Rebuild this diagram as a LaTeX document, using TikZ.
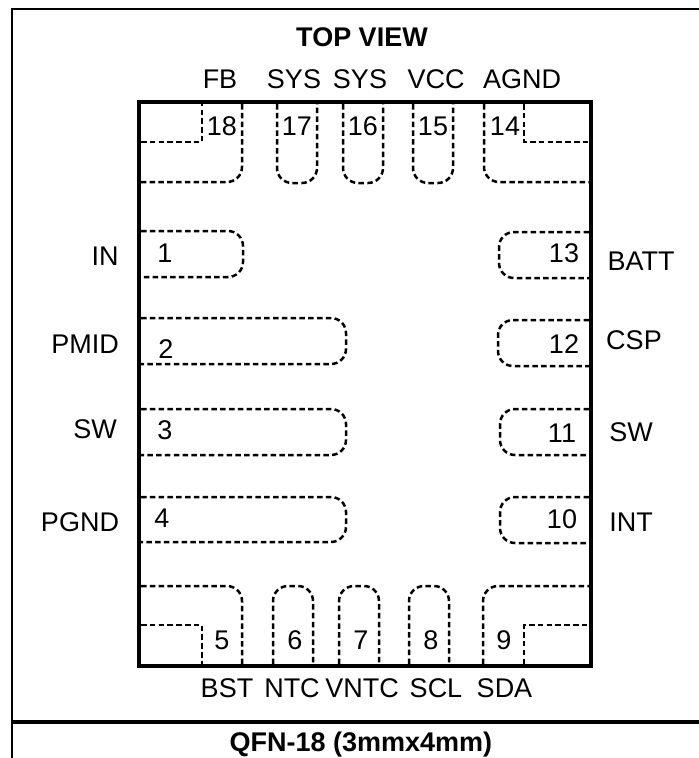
\documentclass[tikz,border=0pt]{standalone}
\usepackage{fontspec}
\setmainfont{Liberation Sans}
\tikzset{
  pinline/.style={line width=2.5pt,dash pattern=on 5.5pt off 3.3pt,rounded corners=15pt},
  sharp/.style={rounded corners=0pt},
  lbl/.style={anchor=base,inner sep=0pt,font=\fontsize{27}{30}\selectfont},
  ttl/.style={anchor=base,inner sep=0pt,font=\fontsize{27}{30}\selectfont\bfseries},
}
\begin{document}
\begin{tikzpicture}[x=1pt,y=-1pt]
\useasboundingbox (0,0) rectangle (699,758);
% frame
\draw[line width=2.3pt] (699,9) -- (12,9) -- (12,758);
\draw[line width=4.3pt] (12,722) -- (699,722);
% chip
\draw[line width=4.6pt] (139,102) rectangle (591,666);
% top pins
\draw[pinline,sharp] (141,142) -- (202,142) -- (202,104);
\draw[pinline] (242,104) -- (242,182) -- (141,182);
\draw[pinline] (277,104) -- (277,183) -- (317,183) -- (317,104);
\draw[pinline] (343,104) -- (343,183) -- (383,183) -- (383,104);
\draw[pinline] (413,104) -- (413,183) -- (453,183) -- (453,104);
\draw[pinline] (484,104) -- (484,182) -- (589,182);
\draw[pinline,sharp] (524,104) -- (524,142) -- (589,142);
% left pins
\draw[pinline] (141,231) -- (243,231) -- (243,277) -- (141,277);
\draw[pinline] (141,318) -- (346,318) -- (346,364) -- (141,364);
\draw[pinline] (141,409) -- (346,409) -- (346,455) -- (141,455);
\draw[pinline] (141,497) -- (346,497) -- (346,542) -- (141,542);
% right pins
\draw[pinline] (589,232) -- (499,232) -- (499,278) -- (589,278);
\draw[pinline] (589,320) -- (498,320) -- (498,366) -- (589,366);
\draw[pinline] (589,409) -- (500,409) -- (500,455) -- (589,455);
\draw[pinline] (589,497) -- (500,497) -- (500,543) -- (589,543);
% bottom pins
\draw[pinline,sharp] (141,625) -- (202,625) -- (202,664);
\draw[pinline] (141,586) -- (242,586) -- (242,664);
\draw[pinline] (273,664) -- (273,586) -- (313,586) -- (313,664);
\draw[pinline] (339,664) -- (339,586) -- (379,586) -- (379,664);
\draw[pinline] (409,664) -- (409,586) -- (449,586) -- (449,664);
\draw[pinline] (483,664) -- (483,586) -- (589,586);
\draw[pinline,sharp] (524,664) -- (524,625) -- (589,625);
% titles
\node[ttl] (title) at (362,46) {TOP VIEW};
\node[ttl] (pkg) at (361,751) {QFN-18 (3mmx4mm)};
% top labels
\node[lbl] (lFB) at (220,88) {FB};
\node[lbl] (lSYSa) at (294,88) {SYS};
\node[lbl] (lSYSb) at (360,88) {SYS};
\node[lbl] (lVCC) at (436,88) {VCC};
\node[lbl] (lAGND) at (522,88) {AGND};
\node[lbl] (n18) at (222,135) {18};
\node[lbl] (n17) at (297,135) {17};
\node[lbl] (n16) at (363,135) {16};
\node[lbl] (n15) at (433,135) {15};
\node[lbl] (n14) at (505,135) {14};
% left labels
\node[lbl] (lIN) at (105,265) {IN};
\node[lbl] (lPMID) at (85,353) {PMID};
\node[lbl] (lSWa) at (95,438) {SW};
\node[lbl] (lPGND) at (80,531) {PGND};
\node[lbl] (n1) at (165,262) {1};
\node[lbl] (n2) at (166,358) {2};
\node[lbl] (n3) at (165,439) {3};
\node[lbl] (n4) at (162,527) {4};
% right labels
\node[lbl] (lBATT) at (641,270) {BATT};
\node[lbl] (lCSP) at (634,349) {CSP};
\node[lbl] (lSWb) at (631,441) {SW};
\node[lbl] (lINT) at (631,531) {INT};
\node[lbl] (n13) at (564,262) {13};
\node[lbl] (n12) at (564,353) {12};
\node[lbl] (n11) at (562,442) {11};
\node[lbl] (n10) at (562,528) {10};
% bottom labels
\node[lbl] (n5) at (222,649) {5};
\node[lbl] (n6) at (295,649) {6};
\node[lbl] (n7) at (361,649) {7};
\node[lbl] (n8) at (431,649) {8};
\node[lbl] (n9) at (504,649) {9};
\node[lbl] (lBST) at (227,697) {BST};
\node[lbl] (lNTC) at (292,697) {NTC};
\node[lbl] (lVNTC) at (362,697) {VNTC};
\node[lbl] (lSCL) at (436,697) {SCL};
\node[lbl] (lSDA) at (504.5,697) {SDA};
\end{tikzpicture}
\end{document}
